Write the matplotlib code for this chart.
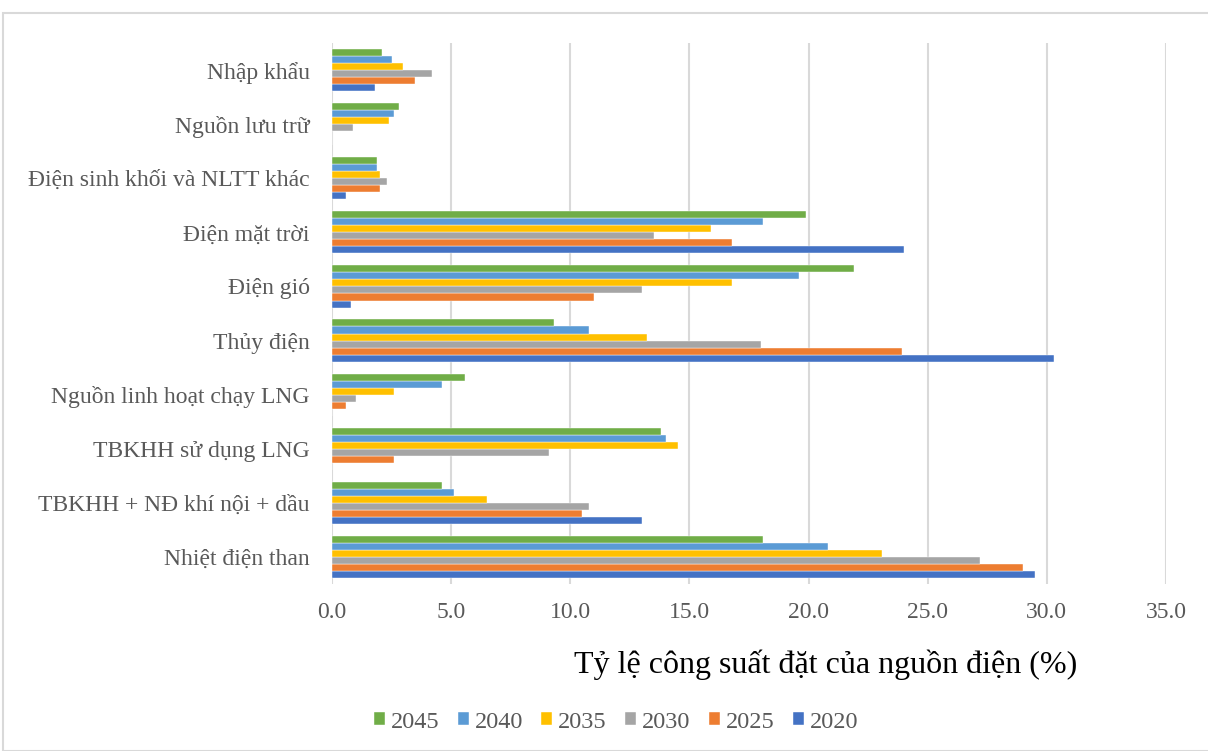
import numpy as np
import matplotlib
matplotlib.use('Agg')
import matplotlib.pyplot as plt
from matplotlib.patches import Rectangle

# categories from bottom to top
categories = ['Nhiệt điện than', 'TBKHH + NĐ khí nội + dầu', 'TBKHH sử dụng LNG',
              'Nguồn linh hoạt chạy LNG', 'Thủy điện', 'Điện gió', 'Điện mặt trời',
              'Điện sinh khối và NLTT khác', 'Nguồn lưu trữ', 'Nhập khẩu']

years = ['2020', '2025', '2030', '2035', '2040', '2045']

v2020 = [29.5, 13.0, 0.0, 0.0, 30.3, 0.8, 24.0, 0.6, 0.0, 1.8]
v2025 = [29.0, 10.5, 2.6, 0.6, 23.9, 11.0, 16.8, 2.0, 0.0, 3.5]
v2030 = [27.2, 10.8, 9.1, 1.0, 18.0, 13.0, 13.5, 2.3, 0.9, 4.2]
v2035 = [23.1, 6.5, 14.5, 2.6, 13.2, 16.8, 15.9, 2.0, 2.4, 3.0]
v2040 = [20.8, 5.1, 14.0, 4.6, 10.8, 19.6, 18.1, 1.9, 2.6, 2.5]
v2045 = [18.1, 4.6, 13.8, 5.6, 9.3, 21.9, 19.9, 1.9, 2.8, 2.1]

series = [v2020, v2025, v2030, v2035, v2040, v2045]
colors = ['#4472C4', '#ED7D31', '#A5A5A5', '#FFC000', '#5B9BD5', '#70AD47']

txt = '#595959'
plt.rcParams['font.family'] = ['Liberation Serif', 'DejaVu Serif']

W, H = 1208, 751
fig = plt.figure(figsize=(W / 100, H / 100), dpi=100)

# chart frame
fig.patches.append(Rectangle((3 / W, 0), 1.0, 1 - 13 / H, transform=fig.transFigure,
                             fill=False, edgecolor='#D9D9D9', linewidth=1.5))

ax = fig.add_axes([332 / W, 1 - 584 / H, (1166 - 332) / W, (584 - 43) / H])

n = len(series)
bh = 0.13
y = np.arange(len(categories))
for i, (vals, c, yr) in enumerate(zip(series, colors, years)):
    ax.barh(y + (i - (n - 1) / 2) * bh, vals, height=bh, color=c, label=yr,
            edgecolor='white', linewidth=0.3, zorder=3)

ax.set_xlim(0, 35)
ax.set_ylim(-0.5, len(categories) - 0.5)
ax.set_xticks(np.arange(0, 36, 5))
ax.set_xticklabels([f'{v:.1f}' for v in np.arange(0, 36, 5)])
ax.set_yticks(y)
ax.set_yticklabels(categories)
ax.tick_params(length=0, labelsize=17, colors=txt)
ax.tick_params(axis='x', pad=13)
ax.tick_params(axis='y', pad=16)
ax.grid(axis='x', color='#D9D9D9', linewidth=1.5, zorder=0)
for s in ax.spines.values():
    s.set_visible(False)

fig.text(826 / W, 1 - 665 / H, 'Tỷ lệ công suất đặt của nguồn điện (%)',
         ha='center', va='center', fontsize=23, color='black')

handles, labels = ax.get_legend_handles_labels()
leg = fig.legend(handles[::-1], labels[::-1], loc='center', bbox_to_anchor=(616 / W, 1 - 722 / H),
                 ncol=6, frameon=False, fontsize=17.5, handlelength=0.45, handleheight=0.45,
                 handletextpad=0.25, columnspacing=0.75, labelcolor=txt)

fig.savefig('out.png', dpi=100)
